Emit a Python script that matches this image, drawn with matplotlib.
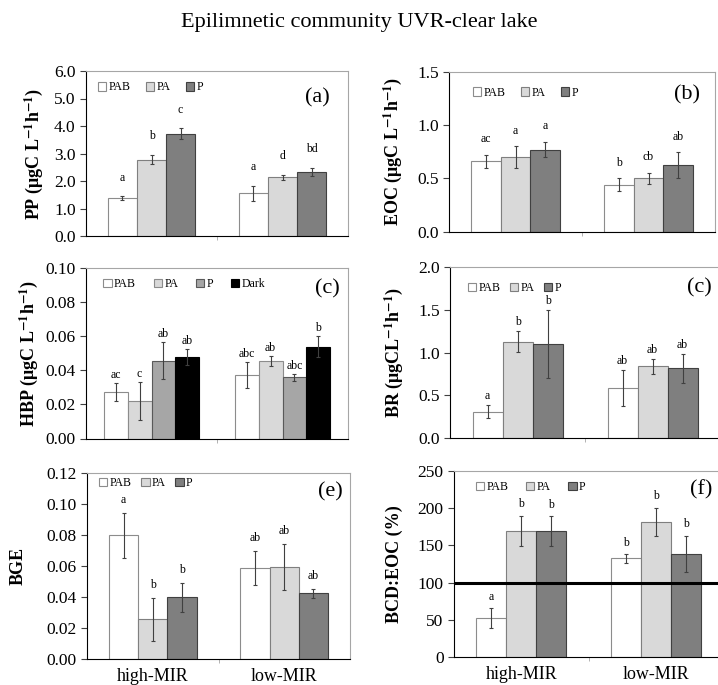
import numpy as np
import matplotlib.pyplot as plt

plt.rcParams['font.family'] = ['Liberation Serif', 'DejaVu Serif']
plt.rcParams['mathtext.fontset'] = 'stix'

groups = ['high-MIR', 'low-MIR']
treat3 = ['PAB', 'PA', 'P']
treat4 = ['PAB', 'PA', 'P', 'Dark']

# values per treatment: [high-MIR, low-MIR]
pp_mean = [[1.38, 1.55], [2.78, 2.13], [3.72, 2.34]]
pp_err = [[0.07, 0.27], [0.17, 0.10], [0.20, 0.14]]
pp_let = [['a', 'a'], ['b', 'd'], ['c', 'bd']]

eoc_mean = [[0.66, 0.44], [0.70, 0.50], [0.77, 0.625]]
eoc_err = [[0.06, 0.06], [0.10, 0.055], [0.07, 0.12]]
eoc_let = [['ac', 'b'], ['a', 'cb'], ['a', 'ab']]

hbp_mean = [[0.0273, 0.0373], [0.022, 0.0455], [0.0457, 0.036], [0.048, 0.054]]
hbp_err = [[0.0054, 0.0075], [0.011, 0.003], [0.011, 0.002], [0.0047, 0.006]]
hbp_let = [['ac', 'abc'], ['c', 'ab'], ['ab', 'abc'], ['ab', 'b']]

br_mean = [[0.31, 0.59], [1.13, 0.84], [1.105, 0.815]]
br_err = [[0.075, 0.21], [0.125, 0.086], [0.40, 0.17]]
br_let = [['a', 'ab'], ['b', 'ab'], ['b', 'ab']]

bge_mean = [[0.0797, 0.0585], [0.0257, 0.0591], [0.0399, 0.0424]]
bge_err = [[0.0145, 0.011], [0.014, 0.0148], [0.0094, 0.0027]]
bge_let = [['a', 'ab'], ['b', 'ab'], ['b', 'ab']]

bcd_mean = [[52.2, 132.6], [169.6, 181.2], [169.2, 138.8]]
bcd_err = [[13.4, 5.6], [20, 19], [20, 24]]
bcd_let = [['a', 'b'], ['b', 'b'], ['b', 'b']]

fill3 = ['white', '#d9d9d9', '#7f7f7f']
edge3 = ['#8c8c8c', '#7f7f7f', '#404040']
fill4 = ['white', '#d9d9d9', '#a6a6a6', 'black']
edge4 = ['#8c8c8c', '#8c8c8c', '#595959', 'black']

W, H = 718, 685
fig = plt.figure(figsize=(W / 100, H / 100), dpi=100)


def box(l, r, t, b):
    return [l / W, 1 - b / H, (r - l) / W, (b - t) / H]


def panel(rect, names, means, errs, lets, fills, edges, ylim, yt, fmt, ylab,
          lab_x, tag, tag_xy, off, leg_xy, xlabels=False, legcols=1.3):
    ax = fig.add_axes(rect)
    n = len(names)
    w = 1 / (n + 1.5)
    x = np.arange(len(groups))
    for i in range(n):
        pos = x + (i - (n - 1) / 2) * w
        ax.bar(pos, means[i], w, color=fills[i], edgecolor=edges[i],
               linewidth=0.8, label=names[i], zorder=2)
        ax.errorbar(pos, means[i], yerr=errs[i], fmt='none', ecolor='#404040',
                    elinewidth=0.8, capsize=1.2, capthick=0.8, zorder=3)
        for j in range(len(groups)):
            ax.annotate(lets[i][j], (pos[j], means[i][j] + errs[i][j]),
                        xytext=(0, off), textcoords='offset points',
                        ha='center', va='bottom', fontsize=8.5)
    ax.set_xlim(-0.5, 1.5)
    ax.set_ylim(*ylim)
    ax.set_yticks(yt)
    ax.set_yticklabels([fmt % v for v in yt], fontsize=12.5)
    ax.tick_params(axis='y', length=4, width=0.8, color='#404040')
    ax.set_xticks([0, 1])
    ax.set_xticks([0.5], minor=True)
    ax.tick_params(axis='x', which='major', length=0, pad=6)
    ax.tick_params(axis='x', which='minor', length=3, color='#a6a6a6')
    if xlabels:
        ax.set_xticklabels(groups, fontsize=13)
    else:
        ax.set_xticklabels([])
    for s in ['top', 'right']:
        ax.spines[s].set_color('#a6a6a6')
        ax.spines[s].set_linewidth(0.8)
    for s in ['left', 'bottom']:
        ax.spines[s].set_color('black')
        ax.spines[s].set_linewidth(0.8)
    ax.set_ylabel(ylab, fontsize=13, fontweight='bold', ha='center', va='center')
    ax.yaxis.set_label_coords(lab_x, 0.5)
    ax.text(tag_xy[0], tag_xy[1], tag, transform=ax.transAxes, ha='right',
            va='center', fontsize=16)
    ax.legend(loc='center left', bbox_to_anchor=leg_xy, ncol=n,
              frameon=False, fontsize=8.5, handlelength=0.7, handleheight=0.7,
              handletextpad=0.2, columnspacing=legcols, borderaxespad=0.3)
    return ax


panel(box(86, 348, 71, 236), treat3, pp_mean, pp_err, pp_let, fill3, edge3,
      (0, 6), np.arange(0, 6.1, 1.0), '%.1f',
      r'PP (μgC L$^{\mathbf{-1}}$h$^{\mathbf{-1}}$)', -0.2, '(a)', (0.93, 0.836),
      9, (0.015, 0.90))

panel(box(449, 715, 71.7, 231.7), treat3, eoc_mean, eoc_err, eoc_let, fill3, edge3,
      (0, 1.5), np.arange(0, 1.51, 0.5), '%.1f',
      r'EOC (μgC L$^{\mathbf{-1}}$h$^{\mathbf{-1}}$)', -0.21, '(b)', (0.944, 0.854),
      7, (0.06, 0.87))

panel(box(86, 348, 268.3, 438.5), treat4, hbp_mean, hbp_err, hbp_let, fill4, edge4,
      (0, 0.10), np.arange(0, 0.101, 0.02), '%.2f',
      r'HBP (μgC L$^{\mathbf{-1}}$h$^{\mathbf{-1}}$)', -0.22, '(c)', (0.97, 0.877),
      1.5, (0.035, 0.905), legcols=1.5)

panel(box(450, 720, 267.3, 438), treat3, br_mean, br_err, br_let, fill3, edge3,
      (0, 2.0), np.arange(0, 2.01, 0.5), '%.1f',
      r'BR (μgCL$^{\mathbf{-1}}$h$^{\mathbf{-1}}$)', -0.207, '(c)', (0.969, 0.88),
      2, (0.035, 0.877), legcols=0.8)

panel(box(87, 350, 472.7, 659.3), treat3, bge_mean, bge_err, bge_let, fill3, edge3,
      (0, 0.12), np.arange(0, 0.121, 0.02), '%.2f',
      'BGE', -0.26, '(e)', (0.973, 0.90), 5, (0.015, 0.945), xlabels=True,
      legcols=0.8)

axf = panel(box(454, 723, 470.7, 657.3), treat3, bcd_mean, bcd_err, bcd_let, fill3,
            edge3, (0, 250), np.arange(0, 251, 50), '%d',
            'BCD:EOC (%)', -0.22, '(f)', (0.96, 0.897), 4, (0.05, 0.91),
            xlabels=True, legcols=1.5)
axf.axhline(100, color='black', linewidth=2.2, zorder=4)

fig.text(0.5, 1 - 22 / H, 'Epilimnetic community UVR-clear lake',
         ha='center', va='center', fontsize=16)

fig.savefig('out.png', dpi=100)
